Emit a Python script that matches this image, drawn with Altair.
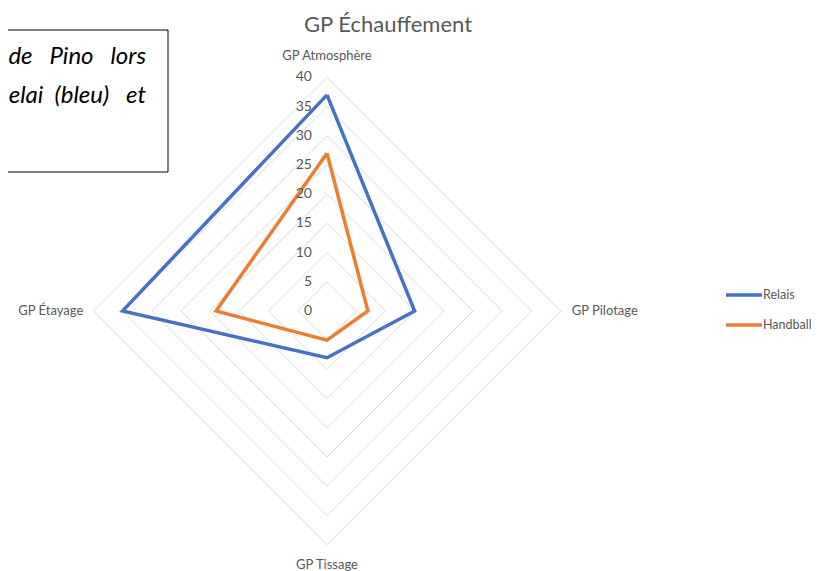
import math
import altair as alt
import pandas as pd

# ---------------- data ----------------
categories = ["GP Atmosphère", "GP Pilotage", "GP Tissage", "GP Étayage"]
series_names = ["Relais", "Handball"]
relais = [37, 15, 8, 35]
handball = [27, 7, 5, 19]
ticks = [0, 5, 10, 15, 20, 25, 30, 35, 40]
title_text = "GP Échauffement"
note_lines = ["de\u00a0\u00a0\u00a0Pino\u00a0\u00a0\u00a0lors", "elai\u00a0\u00a0(bleu)\u00a0\u00a0\u00a0et"]
colors = ["#4472C4", "#ED7D31"]

# ---------------- layout ----------------
W, H = 803, 563
CX, CY = 319, 303            # centre of the radar in chart pixels
K = 233.7 / 40               # pixels per unit
xdom = [-CX / K, (W - CX) / K]
ydom = [-(H - CY) / K, CY / K]
FONT = "Lato"
GREY = "#595959"

n = len(categories)
angles = [2 * math.pi * i / n for i in range(n)]


def polar(r, i):
    return r * math.sin(angles[i]), r * math.cos(angles[i])


rows = []
for name, vals in zip(series_names, [relais, handball]):
    for k in range(n + 1):
        i = k % n
        x, y = polar(vals[i], i)
        rows.append({"series": name, "order": k, "x": x, "y": y,
                     "category": categories[i], "value": vals[i]})
df_series = pd.DataFrame(rows)

grid_rows = []
for lv in ticks[1:]:
    for k in range(n + 1):
        i = k % n
        x, y = polar(lv, i)
        grid_rows.append({"level": lv, "order": k, "x": x, "y": y})
df_grid = pd.DataFrame(grid_rows)

df_ticks = pd.DataFrame({"level": ticks, "x": [0] * len(ticks), "y": ticks})

cat_rows = []
for i, c in enumerate(categories):
    x, y = polar(ticks[-1], i)
    cat_rows.append({"category": c, "idx": i, "x": x, "y": y})
df_cat = pd.DataFrame(cat_rows)

xs = alt.Scale(domain=xdom, nice=False, zero=False)
ys = alt.Scale(domain=ydom, nice=False, zero=False)
X = alt.X("x:Q", scale=xs, axis=None)
Y = alt.Y("y:Q", scale=ys, axis=None)

grid = alt.Chart(df_grid).mark_line(color="#d9d9d9", strokeWidth=1).encode(
    x=X, y=Y, detail="level:O", order="order:Q")

lines = alt.Chart(df_series).mark_line(strokeWidth=3.5).encode(
    x=X, y=Y, order="order:Q", detail="series:N",
    color=alt.Color("series:N", scale=alt.Scale(domain=series_names, range=colors), legend=None))

tick_text = alt.Chart(df_ticks).mark_text(
    align="right", baseline="middle", dx=-15, fontSize=14, color=GREY, font=FONT
).encode(x=X, y=Y, text="level:Q")

base_cat = alt.Chart(df_cat)
cat_top = base_cat.transform_filter("datum.idx == 0").mark_text(
    align="center", baseline="middle", dy=-21, fontSize=13, color=GREY, font=FONT
).encode(x=X, y=Y, text="category:N")
cat_right = base_cat.transform_filter("datum.idx == 1").mark_text(
    align="left", baseline="middle", dx=11, fontSize=13, color=GREY, font=FONT
).encode(x=X, y=Y, text="category:N")
cat_bottom = base_cat.transform_filter("datum.idx == 2").mark_text(
    align="center", baseline="middle", dy=20, fontSize=13, color=GREY, font=FONT
).encode(x=X, y=Y, text="category:N")
cat_left = base_cat.transform_filter("datum.idx == 3").mark_text(
    align="right", baseline="middle", dx=-10, fontSize=13, color=GREY, font=FONT
).encode(x=X, y=Y, text="category:N")

title = alt.Chart(pd.DataFrame({"t": [title_text]})).mark_text(
    align="center", baseline="alphabetic", fontSize=22, color=GREY, font=FONT
).encode(x=alt.value(380), y=alt.value(24), text="t:N")

# note box (top-left)
note_box = alt.Chart(pd.DataFrame({"a": [0]})).mark_rect(
    fill="white", stroke="black", strokeWidth=1
).encode(x=alt.value(-10), x2=alt.value(160), y=alt.value(22), y2=alt.value(164))

note_layers = []
for j, line in enumerate(note_lines):
    note_layers.append(
        alt.Chart(pd.DataFrame({"t": [line]})).mark_text(
            align="right", baseline="alphabetic", fontSize=24, fontStyle="italic",
            color="black", font=FONT
        ).encode(x=alt.value(138), y=alt.value(56 + 39 * j), text="t:N")
    )

# manual legend
legend_layers = []
for j, (name, col) in enumerate(zip(series_names, colors)):
    yy = 287 + 30 * j
    legend_layers.append(
        alt.Chart(pd.DataFrame({"s": [name]})).mark_rule(strokeWidth=3.5, color=col).encode(
            x=alt.value(718), x2=alt.value(754), y=alt.value(yy))
    )
    legend_layers.append(
        alt.Chart(pd.DataFrame({"s": [name]})).mark_text(
            align="left", baseline="middle", fontSize=12.5, color=GREY, font=FONT
        ).encode(x=alt.value(755), y=alt.value(yy), text="s:N")
    )

chart = alt.layer(
    grid, lines, tick_text, cat_top, cat_right, cat_bottom, cat_left,
    title, note_box, *note_layers, *legend_layers
).properties(
    width=W, height=H, padding=0, autosize=alt.AutoSizeParams(type="none"),
    background="white"
).configure_view(stroke=None)

chart.save("out.html", embed_options={"renderer": "svg", "actions": False})
